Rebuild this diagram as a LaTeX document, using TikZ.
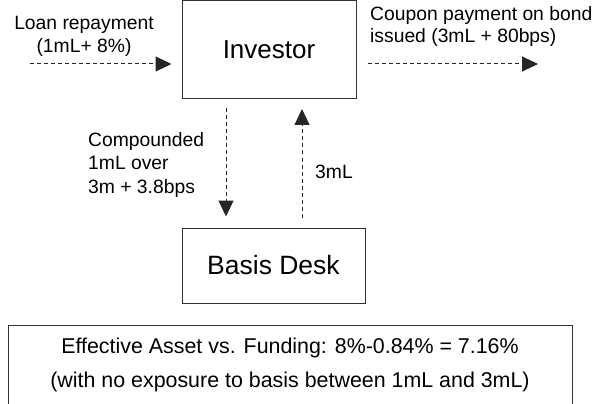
\documentclass[tikz,border=0pt]{standalone}
\usepackage{fontspec}
\setmainfont{Liberation Sans}
\usetikzlibrary{arrows.meta}

\begin{document}
\begin{tikzpicture}[x=1pt,y=-1pt,
  box/.style={shape=rectangle,draw=black!80,line width=1pt,inner sep=0pt},
  lbl/.style={inner sep=0pt,font=\fontsize{19.3}{22.5}\selectfont},
  flow/.style={draw=black!85,line width=1pt,dash pattern=on 4pt off 3pt,-{Triangle[length=16pt,width=15pt]}}]
\useasboundingbox (0,0) rectangle (598,404);

\node[box,minimum width=174pt,minimum height=98pt,font=\fontsize{26}{30}\selectfont] (inv) at (269,49.5) {Investor};
\node[box,minimum width=183pt,minimum height=75pt,font=\fontsize{26.5}{30}\selectfont] (bas) at (273.5,265.5) {Basis Desk};
\node[box,minimum width=564pt,minimum height=80pt,align=center,font=\fontsize{21.4}{34}\selectfont] (eff) at (290,365) {Effective Asset vs. Funding: 8\%-0.84\% = 7.16\%\\(with no exposure to basis between 1mL and 3mL)};

\coordinate (loanin) at (30,64);
\coordinate (couponout) at (538,64);

\draw[flow,shorten >=10pt] (loanin) -- (loanin -| inv.west);
\draw[flow,shorten <=11pt] (inv.east |- couponout) -- (couponout);
\draw[flow,shorten <=9pt,shorten >=11pt] ([xshift=-43pt]inv.south) -- ([xshift=-43pt]inv.south |- bas.north);
\draw[flow,shorten <=10pt,shorten >=10pt] ([xshift=33pt]inv.south |- bas.north) -- ([xshift=33pt]inv.south);

\node[lbl,align=center] (loan) at (84,36.5) {Loan repayment\\(1mL+ 8\%)};
\node[lbl,align=left,anchor=west] (coupon) at (370,26.5) {Coupon payment on bond\\issued (3mL + 80bps)};
\node[lbl,align=left,anchor=west,font=\fontsize{19.3}{23.5}\selectfont] (comp) at (88,165) {Compounded\\1mL over\\3m + 3.8bps};
\node[lbl,anchor=west] (three) at (315,172) {3mL};
\end{tikzpicture}
\end{document}
